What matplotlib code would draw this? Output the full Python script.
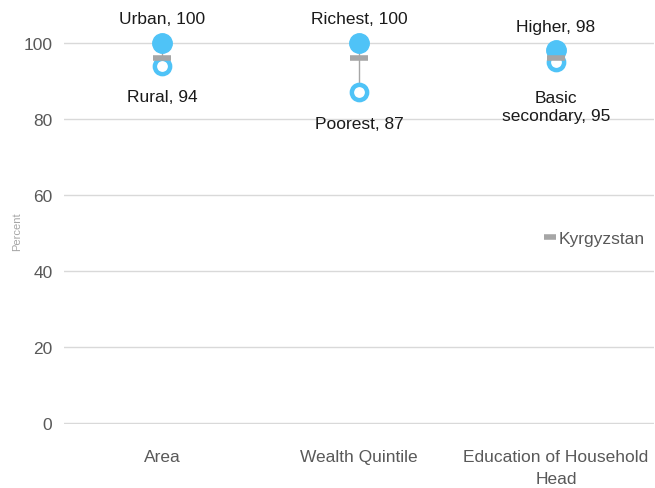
import matplotlib.pyplot as plt
from matplotlib.lines import Line2D

plt.rcParams['font.family'] = ['Liberation Sans', 'DejaVu Sans']

# Groups and their high / low breakdown values
groups = ["Area", "Wealth Quintile", "Education of Household\nHead"]
high_labels = ["Urban", "Richest", "Higher"]
high_values = [100, 100, 98]
low_labels = ["Rural", "Poorest", "Basic\nsecondary"]
low_values = [94, 87, 95]
national_label = "Kyrgyzstan"
national_values = [96, 96, 96]

blue = "#4FC3F7"
grey = "#A6A6A6"
fs = 12.5

fig = plt.figure(figsize=(6.55, 4.89), dpi=100)
ax = fig.add_axes([0.097, 0.131, 0.902, 0.857])

x = list(range(len(groups)))

# connector between low and high values
for i in x:
    ax.plot([i, i], [low_values[i], high_values[i]], color=grey, lw=1, zorder=1)

ax.plot(x, high_values, 'o', ms=14, color=blue, mec=blue, zorder=3, linestyle='none')
ax.plot(x, low_values, 'o', ms=11, mfc='white', mec=blue, mew=3.2, zorder=3, linestyle='none')
ax.plot(x, national_values, '_', ms=12.5, mew=4, color=grey, zorder=4, linestyle='none')

for i in x:
    ax.annotate(f"{high_labels[i]}, {high_values[i]}", (i, high_values[i]),
                xytext=(0, 12), textcoords='offset points', ha='center', va='bottom',
                fontsize=fs, color='#1a1a1a')
    off = -20 if "\n" in low_labels[i] else -17
    ax.annotate(f"{low_labels[i]}, {low_values[i]}", (i, low_values[i]),
                xytext=(0, off), textcoords='offset points', ha='center', va='top',
                fontsize=fs, color='#1a1a1a', linespacing=1.25)

ax.set_xlim(-0.5, 2.5)
ax.set_ylim(-0.3, 110)
ax.set_yticks([0, 20, 40, 60, 80, 100])
ax.set_xticks(x)
ax.set_xticklabels(groups, fontsize=fs, color='#595959', linespacing=1.6)
ax.tick_params(axis='y', labelsize=fs, labelcolor='#595959', length=0, pad=8)
ax.tick_params(axis='x', length=0, pad=18)
ax.grid(axis='y', color='#D9D9D9', lw=1)
ax.set_axisbelow(True)
for s in ax.spines.values():
    s.set_visible(False)
ax.set_ylabel("Percent", fontsize=8, color='#A6A6A6')
ax.yaxis.set_label_coords(-0.07, 0.46)

handle = Line2D([], [], marker='_', ms=9, mew=4, color=grey, linestyle='none')
ax.legend([handle], [national_label], loc='center left', bbox_to_anchor=(0.8, 0.442),
          frameon=False, fontsize=fs, handlelength=0.8, handletextpad=0.1,
          labelcolor='#595959', borderaxespad=0)

fig.savefig("out.png", dpi=100)
